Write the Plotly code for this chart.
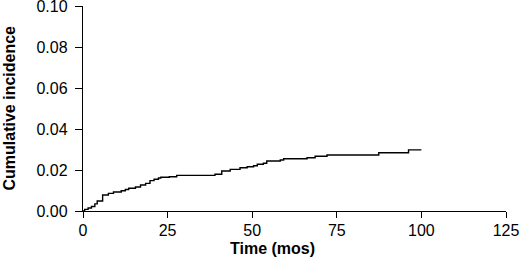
import plotly.graph_objects as go

time_mos = [0, 0.5, 1.5, 2.5, 3.5, 4.2, 5.8, 7.5, 9, 11.3, 12.5, 13.5, 15.5, 17, 18.5,
            19.8, 21, 22.3, 23, 25.5, 27.7, 39, 41, 43.5, 46.4, 48.5, 50.4, 51.5,
            53.3, 54.3, 58.3, 59.3, 66.2, 68.6, 72.1, 87.4, 96.2, 100]
cum_inc = [0, 0.0008, 0.0015, 0.0022, 0.0035, 0.0049, 0.0078, 0.0086, 0.0093, 0.0099,
           0.0105, 0.0111, 0.0117, 0.0127, 0.0135, 0.0148, 0.0155, 0.0161, 0.0165,
           0.0167, 0.0174, 0.0179, 0.0195, 0.0203, 0.0211, 0.0216, 0.0221, 0.0228,
           0.0233, 0.0244, 0.0249, 0.0255, 0.0260, 0.0267, 0.0273, 0.0284, 0.0298, 0.0298]

x_ticks = [0, 25, 50, 75, 100, 125]
y_ticks = [0.00, 0.02, 0.04, 0.06, 0.08, 0.10]
y_tick_labels = ["0.00", "0.02", "0.04", "0.06", "0.08", "0.10"]

FONT = "Liberation Sans, Arial, sans-serif"

fig = go.Figure()
fig.add_trace(go.Scatter(x=time_mos, y=cum_inc, mode="lines", line_shape="hv",
                         line=dict(color="black", width=1.4), showlegend=False,
                         cliponaxis=False, hoverinfo="skip"))

PW = 520 - 83 - 14  # plot width in px
PH = 260 - 6 - 49   # plot height in px

fig.update_layout(
    width=520, height=260,
    margin=dict(l=83, r=14, t=6, b=49, autoexpand=False),
    paper_bgcolor="white", plot_bgcolor="white",
    font=dict(family=FONT, size=16, color="black"),
    xaxis=dict(range=[0, 125], tickvals=x_ticks, ticks="outside", ticklen=6,
               tickwidth=1.4, tickcolor="black", showline=True, linecolor="black",
               linewidth=1.4, showgrid=False, zeroline=False, automargin=False,
               ticklabeloverflow="allow", ticklabelstandoff=-1,
               tickfont=dict(family=FONT, size=16, color="black")),
    yaxis=dict(range=[0, 0.10], tickvals=y_ticks, ticktext=y_tick_labels,
               ticks="outside", ticklen=7, tickwidth=1.4, tickcolor="black",
               showline=True, linecolor="black", linewidth=1.4, showgrid=False,
               zeroline=False, automargin=False, ticklabeloverflow="allow",
               ticklabelstandoff=4,
               tickfont=dict(family=FONT, size=16, color="black")),
    annotations=[
        dict(text="<b>Time (mos)</b>", xref="paper", yref="paper",
             x=(272 - 83) / PW, y=-(248 - 211) / PH,
             xanchor="center", yanchor="middle", showarrow=False,
             font=dict(family=FONT, size=16, color="black")),
        dict(text="<b>Cumulative incidence</b>", xref="paper", yref="paper",
             x=(9 - 83) / PW, y=0.5, xanchor="center", yanchor="middle",
             textangle=-90, showarrow=False,
             font=dict(family=FONT, size=16, color="black")),
    ],
)

fig.write_html("out.html", config={"displayModeBar": False},
               post_script="document.body.style.margin='0';document.body.style.overflow='hidden';")
